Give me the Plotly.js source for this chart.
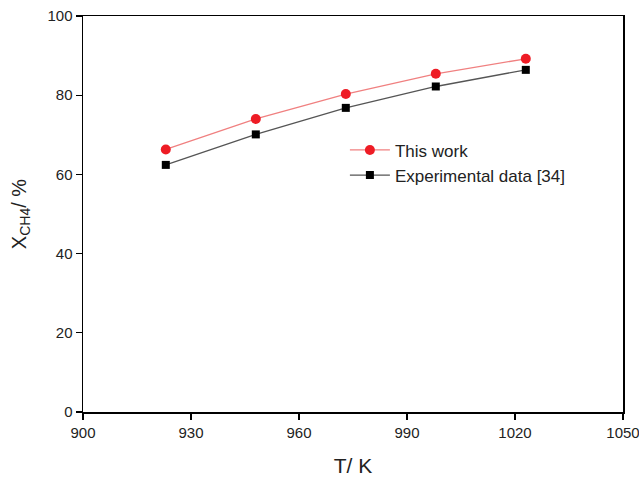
<!DOCTYPE html>
<html>
<head>
<meta charset="utf-8">
<script src="https://cdn.plot.ly/plotly-3.0.1.min.js"></script>
<style>html,body{margin:0;padding:0;background:#fff;}#chart{width:639px;height:478px;}</style>
</head>
<body>
<div id="chart"></div>
<script>
const temperatures = [923, 948, 973, 998, 1023];
const thisWork = [66.3, 74.0, 80.3, 85.4, 89.2];
const experimental = [62.4, 70.1, 76.8, 82.2, 86.4];
const xTicks = [900, 930, 960, 990, 1020, 1050];
const yTicks = [0, 20, 40, 60, 80, 100];

const traces = [
  {
    x: temperatures, y: thisWork, name: 'This work', mode: 'lines+markers',
    line: {color: '#f08080', width: 1.3},
    marker: {symbol: 'circle', size: 10, color: '#ee1c25'}
  },
  {
    x: temperatures, y: experimental, name: 'Experimental data [34]', mode: 'lines+markers',
    line: {color: '#555555', width: 1.3},
    marker: {symbol: 'square', size: 8, color: '#000000'}
  }
];

const axisCommon = {
  showline: true, linecolor: '#000', linewidth: 1.5, mirror: true,
  ticks: 'outside', ticklen: 6, tickwidth: 1.3, tickcolor: '#000',
  showgrid: false, zeroline: false, ticklabeloverflow: 'allow',
  tickfont: {family: 'Liberation Sans, Arial, sans-serif', size: 15, color: '#222'}
};

const layout = {
  width: 639, height: 478,
  margin: {l: 83, r: 16, t: 16, b: 66},
  paper_bgcolor: '#fff', plot_bgcolor: '#fff',
  font: {family: 'Liberation Sans, Arial, sans-serif', color: '#222'},
  showlegend: true,
  legend: {x: 0.485, y: 0.629, xanchor: 'left', yanchor: 'middle', bgcolor: 'rgba(0,0,0,0)',
           font: {size: 17, color: '#222'}, tracegroupgap: 0, itemwidth: 40},
  xaxis: Object.assign({}, axisCommon, {
    range: [900, 1050], tickvals: xTicks, ticktext: xTicks.map(String),
    title: {text: 'T/ K', font: {size: 21, color: '#222'}, standoff: 19}
  }),
  yaxis: Object.assign({}, axisCommon, {
    range: [0, 100], tickvals: yTicks, ticktext: yTicks.map(String),
    title: {text: 'X<sub>CH4</sub>/ %', font: {size: 20, color: '#222'}, standoff: 15}
  })
};

Plotly.newPlot('chart', traces, layout, {displayModeBar: false, staticPlot: true});
</script>
</body>
</html>
